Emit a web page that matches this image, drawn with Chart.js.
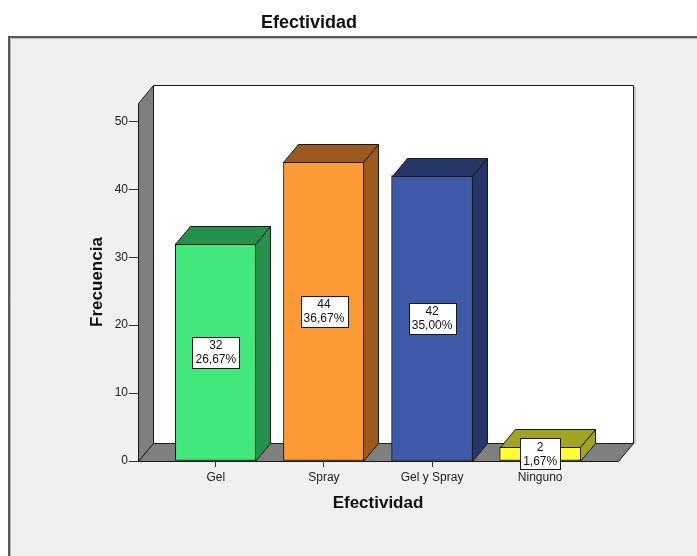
<!DOCTYPE html>
<html>
<head>
<meta charset="utf-8">
<script src="https://cdn.jsdelivr.net/npm/chart.js@4.4.1/dist/chart.umd.min.js"></script>
<style>
  html, body { margin: 0; padding: 0; background: #ffffff; }
  #wrap { width: 697px; height: 556px; }
</style>
</head>
<body>
<div id="wrap"><canvas id="c" width="697" height="556"></canvas></div>
<script>
// Frequencies per category
const categories = ['Gel', 'Spray', 'Gel y Spray', 'Ninguno'];
const counts = [32, 44, 42, 2];
const yTicks = [0, 10, 20, 30, 40, 50];
const yMax = 52.7;

// Colours: front face, then the shaded side/top faces
const frontColors = ['#42e87c', '#fe9a35', '#3f5aa8', '#ffff33'];
const shadeColors = ['#26914d', '#9a5a1e', '#263668', '#a3a322'];

const FONT = '"Liberation Sans", Arial, sans-serif';
const DEPTH_X = 15, DEPTH_Y = -18;
const total = counts.reduce((a, b) => a + b, 0);
const pctText = v => (v / total * 100).toFixed(2).replace('.', ',') + '%';

function poly(ctx, pts, fill, stroke) {
  ctx.beginPath();
  ctx.moveTo(pts[0][0], pts[0][1]);
  for (let i = 1; i < pts.length; i++) ctx.lineTo(pts[i][0], pts[i][1]);
  ctx.closePath();
  ctx.fillStyle = fill;
  ctx.fill();
  ctx.lineWidth = 1;
  ctx.strokeStyle = stroke;
  ctx.stroke();
}

// Panel background, back wall, side wall and floor of the 3D box
const boxPlugin = {
  id: 'box3d',
  beforeDraw(chart) {
    const ctx = chart.ctx;
    const a = chart.chartArea;
    const y0 = chart.scales.y.getPixelForValue(0);
    ctx.save();
    ctx.fillStyle = '#ffffff';
    ctx.fillRect(0, 0, chart.width, chart.height);
    ctx.fillStyle = '#f0f0f0';
    ctx.fillRect(9, 37, chart.width, chart.height);
    ctx.strokeStyle = '#5a5a5a';
    ctx.lineWidth = 2;
    ctx.beginPath();
    ctx.moveTo(9, chart.height + 2);
    ctx.lineTo(9, 37);
    ctx.lineTo(chart.width + 2, 37);
    ctx.stroke();
    ctx.strokeStyle = '#b8b8b8';
    ctx.lineWidth = 1;
    ctx.beginPath();
    ctx.moveTo(10.5, chart.height + 2);
    ctx.lineTo(10.5, 38.5);
    ctx.lineTo(chart.width + 2, 38.5);
    ctx.stroke();

    const L = Math.round(a.left) + 0.5, R = Math.round(a.right) + 0.5;
    const T = Math.round(a.top) + 0.5, B = Math.round(y0) + 0.5;
    // back wall
    poly(ctx, [[L + DEPTH_X, T + DEPTH_Y], [R + DEPTH_X, T + DEPTH_Y], [R + DEPTH_X, B + DEPTH_Y], [L + DEPTH_X, B + DEPTH_Y]], '#ffffff', '#1a1a1a');
    ctx.strokeStyle = '#9a9a9a';
    ctx.beginPath();
    ctx.moveTo(R + DEPTH_X + 1.5, T + DEPTH_Y + 1);
    ctx.lineTo(R + DEPTH_X + 1.5, B + DEPTH_Y);
    ctx.stroke();
    // left wall
    poly(ctx, [[L, T], [L + DEPTH_X, T + DEPTH_Y], [L + DEPTH_X, B + DEPTH_Y], [L, B]], '#7f7f7f', '#1a1a1a');
    // floor
    poly(ctx, [[L, B], [L + DEPTH_X, B + DEPTH_Y], [R + DEPTH_X, B + DEPTH_Y], [R, B]], '#7f7f7f', '#1a1a1a');
    ctx.restore();
  },
  afterDatasetsDraw(chart) {
    const ctx = chart.ctx;
    const meta = chart.getDatasetMeta(0);
    ctx.save();
    meta.data.forEach((bar, i) => {
      const p = bar.getProps(['x', 'y', 'base', 'width'], true);
      const l = Math.round(p.x - p.width / 2) + 0.5;
      const r = Math.round(p.x + p.width / 2) - 0.5;
      const t = Math.round(p.y) + 0.5;
      const b = Math.round(p.base) + 0.5;
      // side face
      poly(ctx, [[r, t], [r + DEPTH_X, t + DEPTH_Y], [r + DEPTH_X, b + DEPTH_Y], [r, b]], shadeColors[i], '#1a1a1a');
      // top face
      poly(ctx, [[l, t], [l + DEPTH_X, t + DEPTH_Y], [r + DEPTH_X, t + DEPTH_Y], [r, t]], shadeColors[i], '#1a1a1a');
    });
    // value labels
    ctx.font = '12px ' + FONT;
    ctx.textAlign = 'center';
    ctx.textBaseline = 'middle';
    meta.data.forEach((bar, i) => {
      const p = bar.getProps(['x', 'y', 'base'], true);
      const l1 = String(counts[i]);
      const l2 = pctText(counts[i]);
      const w = Math.max(ctx.measureText(l1).width, ctx.measureText(l2).width) + 6;
      const h = 31;
      const cx = p.x, cy = (p.y + p.base) / 2;
      const bx = Math.round(cx - w / 2) + 0.5, by = Math.round(cy - h / 2) + 0.5;
      ctx.fillStyle = '#ffffff';
      ctx.fillRect(bx, by, Math.round(w), h);
      ctx.strokeStyle = '#1a1a1a';
      ctx.lineWidth = 1;
      ctx.strokeRect(bx, by, Math.round(w), h);
      ctx.fillStyle = '#111111';
      ctx.fillText(l1, cx, cy - 6.5);
      ctx.fillText(l2, cx, cy + 7.5);
    });
    ctx.restore();
  }
};

new Chart(document.getElementById('c'), {
  type: 'bar',
  data: {
    datasets: [{
      data: counts.map((v, i) => ({ x: i, y: v })),
      backgroundColor: frontColors,
      borderColor: '#1a1a1a',
      borderWidth: 1,
      borderSkipped: false,
      barThickness: 81
    }]
  },
  plugins: [boxPlugin],
  options: {
    responsive: false,
    animation: false,
    devicePixelRatio: 1,
    layout: { padding: { left: 0, right: 79, top: 0, bottom: 0 } },
    plugins: {
      legend: { display: false },
      tooltip: { enabled: false },
      title: {
        display: true,
        text: 'Efectividad',
        color: '#111111',
        font: { family: FONT, size: 18, weight: 'bold', lineHeight: 1.2 },
        padding: { top: 12, bottom: 69.4 }
      }
    },
    scales: {
      x: {
        type: 'linear',
        min: -0.72,
        max: 3.72,
        offset: false,
        bounds: 'data',
        afterFit: s => { s.height = 95; },
        afterBuildTicks: s => { s.ticks = categories.map((c, i) => ({ value: i })); },
        ticks: {
          color: '#222222',
          font: { family: FONT, size: 12 },
          padding: 3,
          maxRotation: 0,
          autoSkip: false,
          callback: v => categories[v]
        },
        grid: { display: true, offset: false, drawOnChartArea: false, drawTicks: true, tickLength: 6, color: '#333333' },
        border: { display: false },
        title: {
          display: true,
          text: 'Efectividad',
          color: '#111111',
          font: { family: FONT, size: 17, weight: 'bold', lineHeight: 1.2 },
          padding: { top: 0, bottom: 42.3 }
        }
      },
      y: {
        type: 'linear',
        min: 0,
        max: yMax,
        afterFit: s => { s.width = 138; },
        afterBuildTicks: s => { s.ticks = yTicks.map(v => ({ value: v })); },
        ticks: {
          color: '#222222',
          font: { family: FONT, size: 12 },
          padding: 1
        },
        grid: { display: true, drawOnChartArea: false, drawTicks: true, tickLength: 9, color: '#333333' },
        border: { display: false },
        title: {
          display: true,
          text: 'Frecuencia',
          color: '#111111',
          font: { family: FONT, size: 17, weight: 'bold', lineHeight: 1.2 },
          padding: { top: 86.8, bottom: 0 }
        }
      }
    }
  }
});
</script>
</body>
</html>
